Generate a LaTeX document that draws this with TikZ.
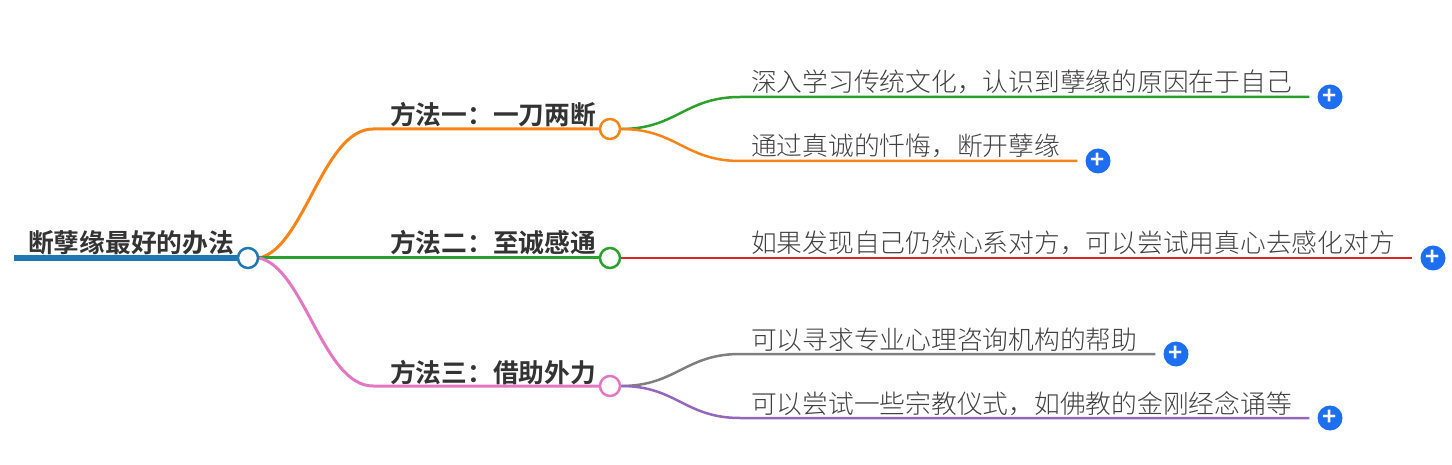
\documentclass[tikz,border=0pt]{standalone}
\usepackage{fontspec}
\setmainfont{Noto Sans CJK SC Light}[BoldFont={Noto Sans CJK SC Bold}]
\usetikzlibrary{backgrounds}
\definecolor{rootblue}{HTML}{1F77B4}
\definecolor{cOrange}{HTML}{F58518}
\definecolor{cGreen}{HTML}{2CA02C}
\definecolor{cRed}{HTML}{D62728}
\definecolor{cPink}{HTML}{E377C2}
\definecolor{cGray}{HTML}{7F7F7F}
\definecolor{cPurple}{HTML}{9467BD}
\definecolor{cPlus}{HTML}{1E6FF0}
\tikzset{
  hub/.style={circle,draw=#1,fill=white,line width=2.5pt,minimum size=20pt,inner sep=0pt},
  topic/.style={anchor=base west,inner sep=0pt,font=\fontsize{25.75}{30}\selectfont\bfseries,text=black!80},
  leaf/.style={anchor=base west,inner sep=0pt,font=\fontsize{25.75}{30}\selectfont,text=black!75},
  plus/.style={circle,fill=cPlus,text=white,minimum size=25pt,inner sep=0pt,font=\fontsize{24}{24}\selectfont\bfseries},
  branch/.style={line width=3pt,draw=#1},
  twig/.style={line width=2.5pt,draw=#1,shorten >=8pt}
}
\begin{document}
\begin{tikzpicture}[x=1pt,y=-1pt]
        \useasboundingbox (0,0) rectangle (1452,465);
        %
        % hubs
        \node[hub=rootblue] (root) at (248,258) {};
        \node[hub=cOrange] (hubA) at (610,129) {};
        \node[hub=cGreen] (hubB) at (610,258) {};
        \node[hub=cPink] (hubC) at (610,386) {};
        %
        % texts
        \node[topic] (rootText) at (28,253) {断孽缘最好的办法};
        \node[topic] (topicA) at (390,125) {方法一：一刀两断};
        \node[topic] (topicB) at (390,253) {方法二：至诚感通};
        \node[topic] (topicC) at (390,382) {方法三：借助外力};
        \node[leaf] (leafA) at (751,92) {深入学习传统文化，认识到孽缘的原因在于自己};
        \node[leaf] (leafB) at (751,156) {通过真诚的忏悔，断开孽缘};
        \node[leaf] (leafC) at (751,253) {如果发现自己仍然心系对方，可以尝试用真心去感化对方};
        \node[leaf] (leafD) at (751,349) {可以寻求专业心理咨询机构的帮助};
        \node[leaf] (leafE) at (751,413) {可以尝试一些宗教仪式，如佛教的金刚经念诵等};
        %
        % plus buttons
        \node[plus] (plusA) at (1330,97) {+};
        \node[plus] (plusB) at (1098,161) {+};
        \node[plus] (plusC) at (1433,258) {+};
        \node[plus] (plusD) at (1176,354) {+};
        \node[plus] (plusE) at (1330,418) {+};
        %
        \coordinate (rootStart) at (14,258);
        \coordinate (elbowA) at (373,129);
        \coordinate (elbowC) at (373,386);
        \coordinate (twigA) at (740,97);
        \coordinate (twigB) at (740,161);
        \coordinate (twigD) at (740,354);
        \coordinate (twigE) at (740,418);
        %
        \begin{scope}[on background layer]
        \draw[line width=6pt,rootblue] (rootStart) -- (root);
        \draw[branch=cOrange] (root.east) .. controls +(45,-10) and +(-50,0) .. (elbowA) -- (hubA);
        \draw[branch=cGreen] (root) -- (hubB);
        \draw[branch=cPink] (root.east) .. controls +(45,10) and +(-50,0) .. (elbowC) -- (hubC);
        %
        \draw[twig=cGreen] (hubA.east) .. controls +(55,0) and +(-55,0) .. (twigA) -- (plusA);
        \draw[twig=cOrange] (hubA.east) .. controls +(55,0) and +(-55,0) .. (twigB) -- (plusB);
        \draw[twig=cRed] (hubB) -- (plusC);
        \draw[twig=cGray] (hubC.east) .. controls +(55,0) and +(-55,0) .. (twigD) -- (plusD);
        \draw[twig=cPurple] (hubC.east) .. controls +(55,0) and +(-55,0) .. (twigE) -- (plusE);
        \end{scope}
      \end{tikzpicture}
\end{document}
